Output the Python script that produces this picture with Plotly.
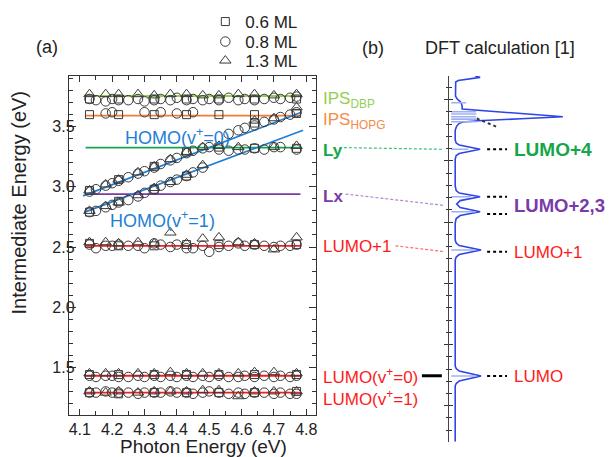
import plotly.graph_objects as go

W, H = 609, 457
FONT = "Liberation Sans, Arial, sans-serif"
RED = "#ff1a1a"

# ---------------- panel (a) data ----------------
x_cir = [4.13, 4.15, 4.18, 4.20, 4.22, 4.25, 4.28, 4.30, 4.33, 4.35, 4.38, 4.40, 4.43,
         4.45, 4.48, 4.50, 4.53, 4.56, 4.59, 4.61, 4.64, 4.67, 4.70, 4.72, 4.75, 4.77]
x_sq = [4.13, 4.22, 4.33, 4.43, 4.53, 4.64, 4.77]
x_tri = [4.13, 4.18, 4.22, 4.28, 4.33, 4.38, 4.43, 4.48, 4.53, 4.59, 4.64, 4.70, 4.77]

# LUMO(v+=1)
lumo1_cir_y = [1.29, 1.29, 1.30, 1.29, 1.29, 1.29, 1.28, 1.29, 1.29, 1.29, 1.30, 1.29, 1.29,
               1.28, 1.29, 1.30, 1.29, 1.28, 1.29, 1.28, 1.29, 1.29, 1.28, 1.29, 1.28, 1.28]
lumo1_sq_y = [1.29, 1.28, 1.29, 1.29, 1.29, 1.29, 1.30]
lumo1_tri_y = [1.30, 1.29, 1.30, 1.29, 1.30, 1.30, 1.30, 1.31, 1.31, 1.26, 1.30, 1.30, 1.30]
# LUMO(v+=0)
lumo0_cir_y = [1.43, 1.42, 1.43, 1.43, 1.42, 1.42, 1.43, 1.42, 1.43, 1.42, 1.43, 1.42, 1.43,
               1.42, 1.43, 1.42, 1.43, 1.42, 1.42, 1.43, 1.42, 1.43, 1.42, 1.43, 1.42, 1.43]
lumo0_sq_y = [1.44, 1.44, 1.44, 1.44, 1.44, 1.44, 1.44]
lumo0_tri_y = [1.45, 1.45, 1.45, 1.45, 1.45, 1.46, 1.45, 1.45, 1.45, 1.45, 1.46, 1.46, 1.45]
# LUMO+1
lumop1_cir_y = [2.52, 2.49, 2.51, 2.51, 2.52, 2.51, 2.51, 2.49, 2.53, 2.52, 2.50, 2.52, 2.49,
                2.49, 2.51, 2.46, 2.50, 2.51, 2.53, 2.51, 2.52, 2.51, 2.50, 2.51, 2.51, 2.52]
lumop1_sq_y = [2.53, 2.51, 2.51, 2.52, 2.52, 2.52, 2.52]
lumop1_tri_y = [2.54, 2.54, 2.53, 2.54, 2.53, 2.62, 2.53, 2.57, 2.58, 2.54, 2.53, 2.48, 2.58]
# IPS (DBP)
dbp_cir_y = [3.73, 3.72, 3.71, 3.73, 3.72, 3.72, 3.73, 3.71, 3.72, 3.73, 3.72, 3.74, 3.72,
             3.73, 3.72, 3.73, 3.72, 3.74, 3.72, 3.73, 3.72, 3.73, 3.74, 3.73, 3.74, 3.75]
dbp_sq_y = [3.73, 3.73, 3.73, 3.73, 3.73, 3.73, 3.73]
dbp_tri_y = [3.77, 3.77, 3.77, 3.77, 3.76, 3.77, 3.77, 3.76, 3.76, 3.77, 3.77, 3.76, 3.77]
# IPS (HOPG)
hopg_cir_x = [4.18, 4.20, 4.30, 4.35, 4.40, 4.45]
hopg_cir_y = [3.61, 3.62, 3.62, 3.62, 3.61, 3.62]
hopg_sq_x = [4.13, 4.22, 4.33, 4.43, 4.53, 4.64]
hopg_sq_y = [3.60, 3.60, 3.60, 3.60, 3.60, 3.60]
# HOMO(v+=0)
homo0_cir_x = [4.13, 4.15, 4.18, 4.20, 4.22, 4.25, 4.28, 4.30, 4.33, 4.35, 4.38, 4.40, 4.43, 4.45,
               4.56, 4.59, 4.61, 4.64, 4.67, 4.70, 4.72, 4.75, 4.77]
homo0_cir_y = [2.96, 2.98, 3.01, 3.03, 3.05, 3.08, 3.11, 3.13, 3.16, 3.19, 3.22, 3.24, 3.28, 3.30,
               3.44, 3.47, 3.49, 3.51, 3.54, 3.56, 3.58, 3.60, 3.62]
homo0_sq_x = [4.13, 4.22, 4.33, 4.43, 4.64, 4.77]
homo0_sq_y = [2.97, 3.06, 3.17, 3.29, 3.53, 3.61]
homo0_tri_x = [4.13, 4.18, 4.22, 4.28, 4.33, 4.38, 4.43, 4.64, 4.70, 4.77]
homo0_tri_y = [2.97, 3.02, 3.06, 3.12, 3.17, 3.23, 3.29, 3.55, 3.57, 3.66]
# HOMO(v+=1)
homo1_cir_x = [4.13, 4.15, 4.18, 4.20, 4.22, 4.25, 4.28, 4.30, 4.33, 4.35, 4.38, 4.40, 4.43, 4.45, 4.48]
homo1_cir_y = [2.79, 2.80, 2.83, 2.85, 2.87, 2.89, 2.92, 2.95, 2.98, 3.01, 3.04, 3.06, 3.09, 3.12, 3.16]
homo1_sq_x = [4.13, 4.22, 4.33, 4.43]
homo1_sq_y = [2.79, 2.88, 2.98, 3.09]
homo1_tri_x = [4.13, 4.18, 4.22, 4.28, 4.33, 4.38, 4.43, 4.48]
homo1_tri_y = [2.80, 2.84, 2.87, 2.93, 2.99, 3.04, 3.10, 3.18]
# Ly
ly_cir_x = [4.48, 4.50, 4.53, 4.56, 4.59, 4.61, 4.64, 4.67, 4.70, 4.72, 4.77]
ly_cir_y = [3.32, 3.33, 3.31, 3.30, 3.31, 3.31, 3.32, 3.31, 3.33, 3.33, 3.31]
ly_sq_x = [4.53, 4.64, 4.77]
ly_sq_y = [3.33, 3.32, 3.32]
ly_tri_x = [4.48, 4.53, 4.59, 4.70, 4.77]
ly_tri_y = [3.33, 3.34, 3.33, 3.33, 3.34]

# fitted levels
fit_x = [4.118, 4.782]
level_E = [3.755, 3.591, 3.326, 2.940, 2.510, 1.430, 1.290]
level_colors = ["#92d050", "#f07d38", "#14a64a", "#7a3aa8", RED, RED, RED]
homo0_fit_x = [4.110, 4.785]
homo0_fit_y = [2.925, 3.620]
homo1_fit_x = [4.115, 4.790]
homo1_fit_y = [2.790, 3.470]

# ---------------- panel (b) data (DFT DOS) ----------------
dos_e = [0.706, 1.161, 1.181, 1.202, 1.243, 1.283, 1.304, 1.324,
         2.190, 2.215, 2.235, 2.272, 2.309, 2.329, 2.354,
         2.493, 2.529, 2.554, 2.585, 2.619, 2.648, 2.676, 2.708, 2.738, 2.758, 2.795,
         3.016, 3.044, 3.060, 3.095, 3.130, 3.146, 3.171,
         3.252, 3.285, 3.307, 3.318, 3.328, 3.345, 3.361, 3.375, 3.391, 3.408, 3.424, 3.440,
         3.465, 3.485, 3.506, 3.530,
         3.612, 3.645, 3.657, 3.669, 3.683, 3.694]
dos_i = [0, 0, 1, 4, 26, 4, 1, 0,
         0, 1, 4, 26, 4, 1, 0,
         0, 1, 5, 25, 5, 1.5, 5, 25, 4, 1, 0,
         0, 1, 4, 25, 4, 1, 0,
         0, 1.5, 4, 8, 23, 66, 108, 86, 59, 33, 7, 7,
         6.5, 5, 2, 0.3,
         0, 0.5, 3, 12, 25, 20]
stick_e = [3.476, 3.402, 3.383, 3.361, 3.342, 3.320, 3.095, 2.708, 2.585, 2.272, 1.243]
stick_len = [15, 25, 25, 25, 25, 25, 17, 20, 25, 23, 25]
dft_names = ["LUMO", "LUMO+1", "LUMO+2", "LUMO+3", "LUMO+4"]
dft_E = [1.243, 2.258, 2.708, 2.566, 3.095]

# ---------------- layout geometry ----------------
x_range = [4.066, 4.829]
y_range = [1.104, 3.921]
dft_range = [0.706, 3.694]
dos_range = [-6, 143.3]
xa_dom = [69 / W, 316.7 / W]
ya_dom = [(H - 415) / H, (H - 76) / H]
xb_dom = [450.7 / W, 600 / W]
yb_dom = [(H - 441.7) / H, (H - 76) / H]


def pa(E):
    return ya_dom[0] + (E - y_range[0]) / (y_range[1] - y_range[0]) * (ya_dom[1] - ya_dom[0])


def pb(E):
    return yb_dom[0] + (E - dft_range[0]) / (dft_range[1] - dft_range[0]) * (yb_dom[1] - yb_dom[0])


fig = go.Figure()

# fitted lines
for E, c in zip(level_E, level_colors):
    fig.add_trace(go.Scatter(x=fit_x, y=[E, E], mode="lines", line=dict(color=c, width=1.8),
                             showlegend=False, hoverinfo="skip"))
for xs, ys in [(homo0_fit_x, homo0_fit_y), (homo1_fit_x, homo1_fit_y)]:
    fig.add_trace(go.Scatter(x=xs, y=ys, mode="lines", line=dict(color="#1f7fd4", width=1.8),
                             showlegend=False, hoverinfo="skip"))

# markers per coverage
sq_x = x_sq * 3 + hopg_sq_x + homo0_sq_x + homo1_sq_x + ly_sq_x + x_sq
sq_y = lumo1_sq_y + lumo0_sq_y + lumop1_sq_y + hopg_sq_y + homo0_sq_y + homo1_sq_y + ly_sq_y + dbp_sq_y
ci_x = x_cir * 3 + hopg_cir_x + homo0_cir_x + homo1_cir_x + ly_cir_x + x_cir
ci_y = lumo1_cir_y + lumo0_cir_y + lumop1_cir_y + hopg_cir_y + homo0_cir_y + homo1_cir_y + ly_cir_y + dbp_cir_y
tr_x = x_tri * 3 + homo0_tri_x + homo1_tri_x + ly_tri_x + x_tri
tr_y = lumo1_tri_y + lumo0_tri_y + lumop1_tri_y + homo0_tri_y + homo1_tri_y + ly_tri_y + dbp_tri_y

mk_line = dict(color="#3a3a3a", width=1)
fig.add_trace(go.Scatter(x=sq_x, y=sq_y, mode="markers", name="0.6 ML", legend="legend",
                         marker=dict(symbol="square-open", size=8, color="#3a3a3a", line=mk_line)))
fig.add_trace(go.Scatter(x=ci_x, y=ci_y, mode="markers", name="0.8 ML", legend="legend2",
                         marker=dict(symbol="circle-open", size=9.5, color="#3a3a3a", line=mk_line)))
fig.add_trace(go.Scatter(x=tr_x, y=tr_y, mode="markers", name="1.3 ML", legend="legend3",
                         marker=dict(symbol="triangle-up-open", size=10, color="#3a3a3a", line=mk_line)))

# DFT DOS curve
fig.add_trace(go.Scatter(x=dos_i, y=dos_e, xaxis="x2", yaxis="y2", mode="lines",
                         line=dict(color="#2f45e6", width=1.6), showlegend=False, hoverinfo="skip"))
# DFT sticks
sx, sy = [], []
for e, L in zip(stick_e, stick_len):
    sx += [-4, -4 + L, None]
    sy += [e, e, None]
fig.add_trace(go.Scatter(x=sx, y=sy, xaxis="x2", yaxis="y3", mode="lines",
                         line=dict(color="#9fb0f2", width=1.6), showlegend=False, hoverinfo="skip"))

shapes = []
# dotted leaders at DFT levels
for e in dft_E:
    shapes.append(dict(type="line", xref="x2", yref="y2", x0=32, x1=52, y0=e, y1=e,
                       line=dict(color="black", width=2, dash="dot")))
shapes.append(dict(type="line", xref="x2", yref="y2", x0=21.6, x1=43.3, y0=3.347, y1=3.273,
                   line=dict(color="#333", width=2, dash="dot")))
# connectors between panels
shapes.append(dict(type="line", xref="paper", yref="paper", x0=345 / W, x1=445 / W,
                   y0=pa(level_E[2]), y1=pb(dft_E[4]),
                   line=dict(color="#3cc47a", width=1.2, dash="3px,2px")))
shapes.append(dict(type="line", xref="paper", yref="paper", x0=346.7 / W, x1=445 / W,
                   y0=pa(level_E[3]), y1=pb((dft_E[2] + dft_E[3]) / 2),
                   line=dict(color="#b288d8", width=1.2, dash="3px,2px")))
shapes.append(dict(type="line", xref="paper", yref="paper", x0=396.7 / W, x1=446.7 / W,
                   y0=pa(level_E[4]), y1=pb(dft_E[1]),
                   line=dict(color="#ff6a6a", width=1.2, dash="3px,2px")))
shapes.append(dict(type="line", xref="paper", yref="paper", x0=423.3 / W, x1=443.3 / W,
                   y0=pa(level_E[5]), y1=pa(level_E[5]),
                   line=dict(color="black", width=3)))

ann = []


def A(text, x, y, size, color="#222", xref="paper", yref="paper", xanchor="center", **kw):
    ann.append(dict(text=text, x=x, y=y, xref=xref, yref=yref, xanchor=xanchor, yanchor="middle",
                    showarrow=False, font=dict(family=FONT, size=size, color=color), **kw))


# left labels of panel (a)
LX = 321.7 / W
A("IPS<sub>DBP</sub>", LX, 3.725, 17, "#92d050", yref="y", xanchor="left")
A("IPS<sub>HOPG</sub>", LX, 3.545, 17, "#f58b45", yref="y", xanchor="left")
A("<b>Ly</b>", LX, 3.306, 17, "#14a64a", yref="y", xanchor="left")
A("<b>Lx</b>", LX, 2.919, 17, "#7a3aa8", yref="y", xanchor="left")
A("LUMO+1", LX, 2.503, 17, RED, yref="y", xanchor="left")
A("LUMO(v<sup>+</sup>=0)", LX, 1.424, 17, RED, yref="y", xanchor="left")
A("LUMO(v<sup>+</sup>=1)", LX, 1.244, 17, RED, yref="y", xanchor="left")
A("HOMO(v<sup>+</sup>=0)", 123.3 / W, 3.417, 18, "#1f7fd4", yref="y", xanchor="left")
A("HOMO(v<sup>+</sup>=1)", 108 / W, 2.725, 18, "#1f7fd4", yref="y", xanchor="left")
# right labels (DFT)
A("<b>LUMO+4</b>", 56.5, dft_E[4], 19, "#14a64a", xref="x2", yref="y2", xanchor="left")
A("<b>LUMO+2,3</b>", 56.5, (dft_E[2] + dft_E[3]) / 2, 18.5, "#7a3aa8", xref="x2", yref="y2",
  xanchor="left")
A("LUMO+1", 56.5, 2.253, 17, RED, xref="x2", yref="y2", xanchor="left")
A("LUMO", 56.5, 1.237, 17, RED, xref="x2", yref="y2", xanchor="left")
# panel titles
A("(a)", 47.5 / W, (H - 47) / H, 18)
A("(b)", 374 / W, (H - 48) / H, 18)
A("DFT calculation [1]", 501.5 / W, (H - 48) / H, 18)
# axis titles
A("Intermediate Energy (eV)", 19 / W, (H - 202.5) / H, 20, textangle=-90)
A("Photon Energy (eV)", 204 / W, (H - 446.5) / H, 19)

axis_common = dict(showgrid=False, zeroline=False, showline=True, linecolor="#333", linewidth=1,
                   mirror="ticks", ticks="inside", tickcolor="#333", tickwidth=1,
                   tickfont=dict(family=FONT, size=16, color="#222"))

leg = dict(xanchor="left", yanchor="middle", bgcolor="rgba(0,0,0,0)", borderwidth=0,
           font=dict(family=FONT, size=17, color="#222"))

fig.update_layout(
    width=W, height=H, margin=dict(l=0, r=0, t=0, b=0),
    paper_bgcolor="white", plot_bgcolor="rgba(0,0,0,0)",
    xaxis=dict(domain=xa_dom, range=x_range, anchor="y", tick0=4.1, dtick=0.1, tickformat=".1f",
               ticklen=6, minor=dict(dtick=0.05, ticklen=4, ticks="inside", tickcolor="#333"),
               **axis_common),
    yaxis=dict(domain=ya_dom, range=y_range, anchor="x", tick0=1.5, dtick=0.5, tickformat=".1f",
               ticklen=7, ticklabelstandoff=-10,
               minor=dict(dtick=0.1, ticklen=4, ticks="inside", tickcolor="#333"),
               **axis_common),
    xaxis2=dict(domain=xb_dom, range=dos_range, anchor="y2", visible=False),
    yaxis2=dict(domain=yb_dom, range=dft_range, anchor="x2", showgrid=False, zeroline=False,
                showline=True, linecolor="#444", linewidth=1.3, ticks="outside", ticklen=4,
                tick0=0, dtick=0.5, tickcolor="#333", showticklabels=False,
                minor=dict(dtick=0.1, ticklen=2.5, ticks="outside", tickcolor="#333")),
    yaxis3=dict(overlaying="y2", anchor="x2", side="left", range=dft_range, showgrid=False,
                zeroline=False, showline=False, ticks="inside", ticklen=4, tick0=0, dtick=0.5,
                tickcolor="#333", showticklabels=False,
                minor=dict(dtick=0.1, ticklen=2.5, ticks="inside", tickcolor="#333")),
    legend=dict(x=206 / W, y=(H - 22) / H, **leg),
    legend2=dict(x=206 / W, y=(H - 42) / H, **leg),
    legend3=dict(x=206 / W, y=(H - 61) / H, **leg),
    shapes=shapes, annotations=ann,
)

fig.write_html("out.html", config={"displayModeBar": False},
               post_script="document.body.style.margin='0px';")
